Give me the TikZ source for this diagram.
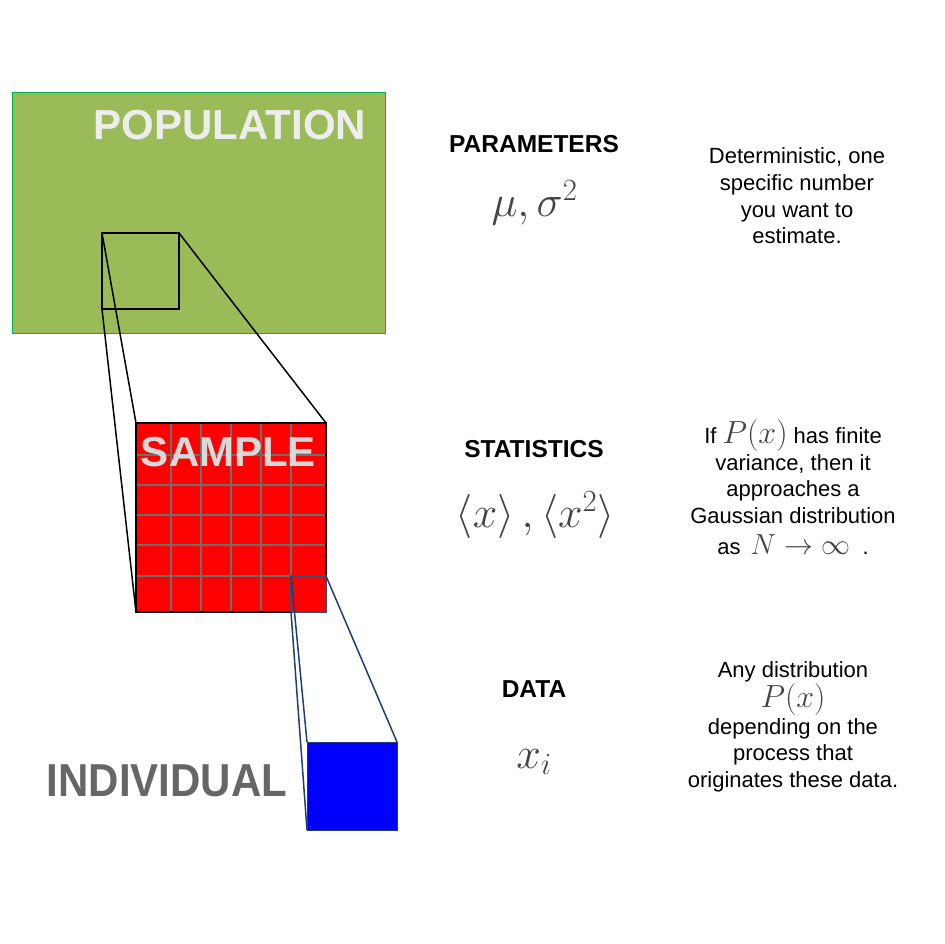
\RequirePackage{fix-cm}
\documentclass[tikz,border=0pt]{standalone}
\usepackage[no-math]{fontspec}
\setmainfont{Liberation Sans}
\usepackage{tikz}
\usetikzlibrary{calc}

\definecolor{popgreen}{HTML}{9BBB59}
\definecolor{popedge}{HTML}{00B050}
\definecolor{zoomblue}{HTML}{1F3F6F}
\definecolor{gridgray}{HTML}{6E6E6E}
\definecolor{mathgray}{HTML}{444444}

\newcommand{\probx}{{\fontsize{32}{32}\selectfont\color{mathgray}$P(x)$}}

\begin{document}
\begin{tikzpicture}[x=1pt, y=-1pt,
    box/.style={draw, anchor=north west, inner sep=0pt, outer sep=0pt},
    biglabel/.style={font=\fontsize{42}{42}\selectfont\bfseries, anchor=base, inner sep=0pt},
    head/.style={font=\fontsize{24.5}{24.5}\selectfont\bfseries, anchor=base, inner sep=0pt},
    formula/.style={font=\fontsize{44}{44}\selectfont, text=mathgray, anchor=base, inner sep=0pt},
    note/.style={font=\fontsize{22}{26.7}\selectfont, align=center, inner sep=0pt}]

    \useasboundingbox (0,0) rectangle (944,944);

    % boxes: population, sample, individual
    \node[box, fill=popgreen, draw=popedge, line width=1pt, minimum width=373pt, minimum height=240pt] (population) at (12,93) {};
    \node[box, line width=1.5pt, minimum width=77pt, minimum height=76pt] (popzoom) at (102,233) {};

    \node[box, draw=none, fill=red, minimum width=190pt, minimum height=189pt] (sample) at (136,423) {};
    \foreach \gx in {171,201,231,261,291}
        \draw[gridgray, line width=1.15pt] (\gx,0 |- sample.north) -- (\gx,0 |- sample.south);
    \foreach \gy in {455,485,515,545,576}
        \draw[gridgray, line width=1.15pt] (sample.west |- 0,\gy) -- (sample.east |- 0,\gy);
    \draw[line width=2pt] (sample.north west) rectangle (sample.south east);
    \node[box, draw=zoomblue!75!gray, line width=1.4pt, minimum width=35pt, minimum height=36pt] (samplezoom) at (291,576) {};

    \node[box, fill=blue, draw=zoomblue, line width=1pt, minimum width=90pt, minimum height=88pt] (individual) at (307,742) {};

    % zoom lines
    \draw[line width=1.5pt] (popzoom.north west) -- (sample.north west);
    \draw[line width=1.5pt] (popzoom.south west) -- (sample.south west);
    \draw[line width=1.5pt] (popzoom.north east) -- (sample.north east);
    \draw[zoomblue, line width=1.5pt] (samplezoom.north west) -- (individual.north west);
    \draw[zoomblue, line width=1.5pt] (samplezoom.south west) -- (individual.south west);
    \draw[zoomblue, line width=1.5pt] (samplezoom.north east) -- (individual.north east);

    \node[biglabel, text=black!7] (poplabel) at (230,140) {POPULATION};
    \node[biglabel, text=black!15] (samplabel) at (228.5,466) {SAMPLE};
    \node[biglabel, text=black!60, yscale=1.1, transform shape] (indlabel) at (167,796) {INDIVIDUAL};

    % middle column
    \node[head] (params) at (534,153) {PARAMETERS};
    \node[formula] (paramf) at (534.5,216) {$\mu, \sigma^2$};
    \node[head] (stats) at (534,457) {STATISTICS};
    \node[formula] (statf) at (535,527) {$\left\langle x\right\rangle, \left\langle x^2\right\rangle$};
    \node[head] (data) at (534,697) {DATA};
    \node[formula] (dataf) at (534,768) {$x_i$};

    % right column
    \node[note] (paramnote) at (797,196) {Deterministic, one\\specific number\\you want to\\estimate.};
    \node[note] (statnote) at (793,487) {If \probx{} has finite\\variance, then it\\approaches a\\Gaussian distribution\\[4pt]as \,{\fontsize{29}{29}\selectfont\color{mathgray}$N\rightarrow\infty$}\ \ .};
    \node[note] (datanote) at (793,727) {Any distribution\\\probx\\depending on the\\process that\\originates these data.};

\end{tikzpicture}
\end{document}
